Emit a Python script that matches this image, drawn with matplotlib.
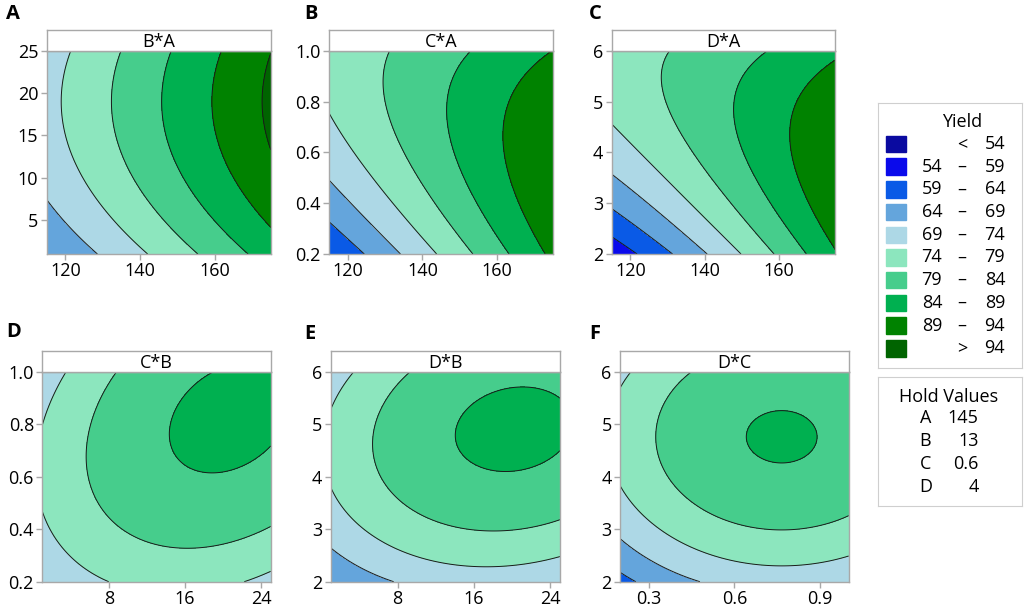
import numpy as np
import matplotlib
matplotlib.use('Agg')
import matplotlib.pyplot as plt
from matplotlib.patches import Rectangle

plt.rcParams['font.family'] = ['Open Sans', 'DejaVu Sans']

# yield bands of the contour plot
levels = [54, 59, 64, 69, 74, 79, 84, 89, 94]
band_colors = ['#0A0AA0', '#0A0AEB', '#0A5AE6', '#64A5DC', '#ADD8E6',
               '#8CE6BE', '#46CD8C', '#00B050', '#008200', '#006400']
band_low = ['', '54', '59', '64', '69', '74', '79', '84', '89', '']
band_high = ['54', '59', '64', '69', '74', '79', '84', '89', '94', '94']

# hold values for the factors not shown in a panel
hold_factors = ['A', 'B', 'C', 'D']
hold_values = ['145', '13', '0.6', '4']

# panels
panel_letters = ['A', 'B', 'C', 'D', 'E', 'F']
panel_titles = ['B*A', 'C*A', 'D*A', 'C*B', 'D*B', 'D*C']
x_limits = [(115, 175), (115, 175), (115, 175), (1, 25), (1, 25), (0.2, 1.0)]
y_limits = [(1, 25), (0.2, 1.0), (2, 6), (0.2, 1.0), (2, 6), (2, 6)]
x_ticks = [[120, 140, 160], [120, 140, 160], [120, 140, 160],
           [8, 16, 24], [8, 16, 24], [0.3, 0.6, 0.9]]
x_ticklabels = [['120', '140', '160']] * 3 + [['8', '16', '24']] * 2 + [['0.3', '0.6', '0.9']]
y_ticks = [[5, 10, 15, 20, 25], [0.2, 0.4, 0.6, 0.8, 1.0], [2, 3, 4, 5, 6],
           [0.2, 0.4, 0.6, 0.8, 1.0], [2, 3, 4, 5, 6], [2, 3, 4, 5, 6]]
y_ticklabels = [['5', '10', '15', '20', '25'], ['0.2', '0.4', '0.6', '0.8', '1.0'],
                ['2', '3', '4', '5', '6'], ['0.2', '0.4', '0.6', '0.8', '1.0'],
                ['2', '3', '4', '5', '6'], ['2', '3', '4', '5', '6']]

# fitted yield surface of each panel
# terms: 1, u, v, u^2, v^2, u*v  (u, v = position scaled 0..1 on x and y axis)
coef_BA = [63.95, 22.3, 22.95, 0.0, -15.3, 0.0]
coef_CA = [59.12, 31.0, 33.45, 0.0, -17.3, -17.2]
coef_DA = [55.5, 30.5, 43.0, 2.5, -22.0, -21.5]
coef_CB = [69.68, 19.74, 18.69, -16.8, -17.3, 10.1]
coef_DB = [64.3, 21.56, 33.39, -16.2, -26.3, 6.0]
coef_DC = [62.34, 25.31, 38.09, -17.9, -27.6, 0.0]
panel_coefs = [coef_BA, coef_CA, coef_DA, coef_CB, coef_DB, coef_DC]

W, H = 1024, 610
fig = plt.figure(figsize=(W / 100, H / 100), dpi=100)

# pixel boxes of plot areas: left, top, right, bottom
boxes = [(46.7, 50.7, 270.7, 254), (329, 50.7, 553.3, 254), (611.7, 50.7, 835, 254),
         (42.3, 371.7, 270.7, 581.7), (330.7, 371.7, 560, 581.7), (620, 371.7, 848.7, 581.7)]
letter_pos = [(6, 4), (304, 4), (589, 4), (6, 322), (304, 324), (589, 324)]
frame_col = '#A8A8A8'
fs = 13

for i in range(6):
    l, t, r, b = boxes[i]
    ax = fig.add_axes([l / W, 1 - b / H, (r - l) / W, (b - t) / H])
    x0, x1 = x_limits[i]
    y0, y1 = y_limits[i]
    xs = np.linspace(x0, x1, 300)
    ys = np.linspace(y0, y1, 300)
    X, Y = np.meshgrid(xs, ys)
    u = (X - x0) / (x1 - x0)
    v = (Y - y0) / (y1 - y0)
    c = panel_coefs[i]
    Z = c[0] + c[1] * u + c[2] * v + c[3] * u ** 2 + c[4] * v ** 2 + c[5] * u * v
    ax.contourf(X, Y, Z, levels=[0] + levels + [200], colors=band_colors)
    ax.contour(X, Y, Z, levels=levels, colors='#1a1a1a', linewidths=0.7)
    ax.set_xlim(x0, x1)
    ax.set_ylim(y0, y1)
    ax.set_xticks(x_ticks[i])
    ax.set_xticklabels(x_ticklabels[i])
    ax.set_yticks(y_ticks[i])
    ax.set_yticklabels(y_ticklabels[i])
    ax.tick_params(direction='out', length=4, width=1, color=frame_col,
                   labelsize=fs, pad=2)
    for s in ax.spines.values():
        s.set_color(frame_col)
        s.set_linewidth(1)

    # strip header
    sh = 20.5
    sax = fig.add_axes([l / W, 1 - t / H, (r - l) / W, sh / H])
    sax.set_xticks([])
    sax.set_yticks([])
    for s in sax.spines.values():
        s.set_color(frame_col)
        s.set_linewidth(1)
    sax.text(0.5, 0.42, panel_titles[i], ha='center', va='center', fontsize=fs,
             transform=sax.transAxes)

    lx, ly = letter_pos[i]
    fig.text(lx / W, 1 - ly / H, panel_letters[i], fontsize=14.5, fontweight='bold',
             ha='left', va='top')

# legend: Yield
lw_, lh_ = 144, 265
lax = fig.add_axes([877.7 / W, 1 - 368.3 / H, lw_ / W, lh_ / H])
lax.set_xlim(0, lw_)
lax.set_ylim(lh_, 0)
lax.set_xticks([])
lax.set_yticks([])
for s in lax.spines.values():
    s.set_color('#CFCFCF')
lax.text(84, 19, 'Yield', ha='center', va='center', fontsize=fs)
for k in range(len(band_colors)):
    yc = 40.7 + k * 22.7
    lax.add_patch(Rectangle((8, yc - 8.3), 20, 16.6, color=band_colors[k]))
    if band_low[k] == '':
        sign = '<' if k == 0 else '>'
        lax.text(84.5, yc, sign, ha='center', va='center', fontsize=fs)
    else:
        lax.text(64.5, yc, band_low[k], ha='right', va='center', fontsize=fs)
        lax.text(84.5, yc, '\u2013', ha='center', va='center', fontsize=fs)
    lax.text(127.5, yc, band_high[k], ha='right', va='center', fontsize=fs)

# legend: hold values
hh_ = 128.7
hax = fig.add_axes([877.7 / W, 1 - 506 / H, lw_ / W, hh_ / H])
hax.set_xlim(0, lw_)
hax.set_ylim(hh_, 0)
hax.set_xticks([])
hax.set_yticks([])
for s in hax.spines.values():
    s.set_color('#CFCFCF')
hax.text(70.5, 20, 'Hold Values', ha='center', va='center', fontsize=fs)
for k in range(len(hold_factors)):
    yc = 41 + k * 23
    hax.text(42, yc, hold_factors[k], ha='left', va='center', fontsize=fs)
    hax.text(101, yc, hold_values[k], ha='right', va='center', fontsize=fs)

fig.savefig('out.png', dpi=100)
